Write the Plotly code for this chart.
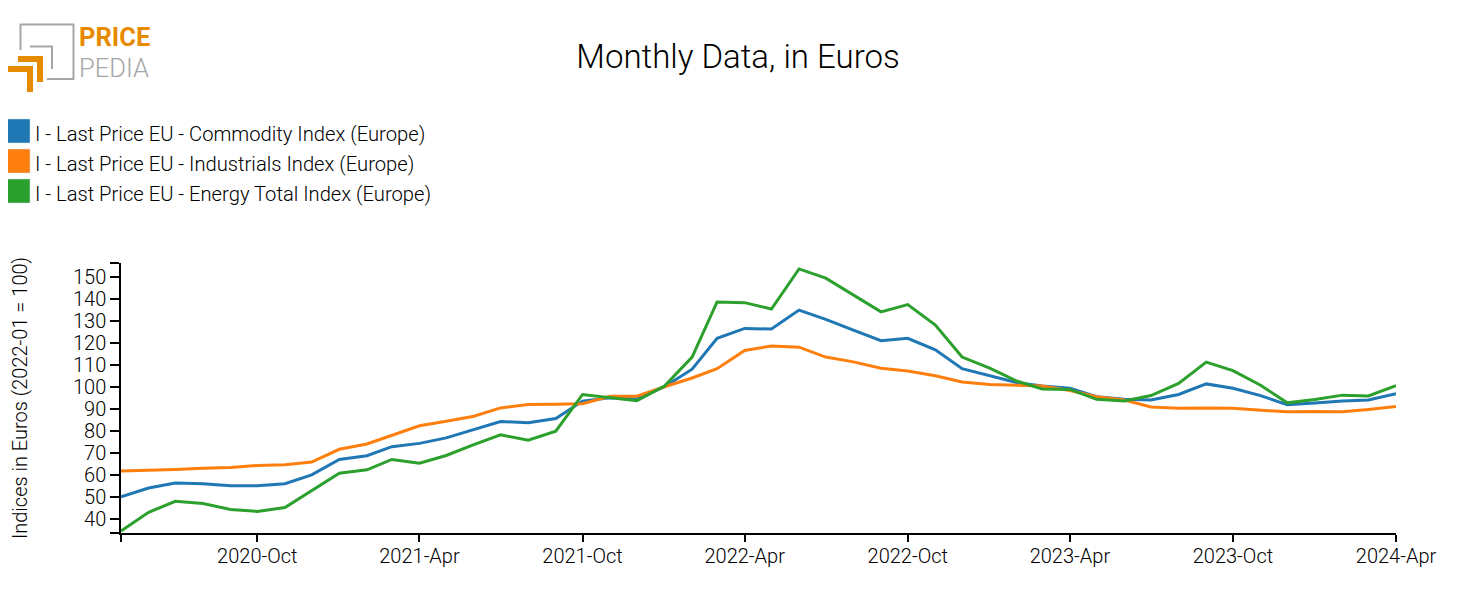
import pandas as pd
import plotly.graph_objects as go

months = pd.date_range("2020-05-01", "2024-04-01", freq="MS")
commodity = [50, 54, 56.3, 56, 55, 55, 56, 60, 67, 68.7, 72.8, 74.3, 76.8, 80.4, 84.2, 83.7, 85.6, 93.5, 95, 94.5,
             100, 108, 122, 126.5, 126.2, 134.8, 130.6, 125.7, 120.9, 122, 116.8, 108.2, 105, 101.8, 100.4, 99.3,
             95.5, 94.3, 94, 96.5, 101.3, 99.3, 96, 91.8, 92.6, 93.5, 94, 96.8]
industrials = [61.7, 62, 62.4, 63, 63.3, 64.3, 64.6, 65.8, 71.6, 74, 77.8, 82.3, 84.3, 86.6, 90.4, 92, 92.1, 92.3, 95.7, 95.7,
               100, 104, 108.2, 116.5, 118.5, 118, 113.5, 111.3, 108.4, 107.2, 105, 102.2, 101, 100.7, 100.4, 98.3,
               95.5, 94, 90.8, 90.2, 90.4, 90.2, 89.5, 88.6, 88.8, 88.7, 89.7, 91]
energy = [34.5, 43, 48, 47, 44.3, 43.4, 45.2, 52.7, 60.7, 62.3, 67, 65.3, 68.8, 73.7, 78.2, 75.7, 79.8, 96.5, 95, 93.7,
          100.3, 113.5, 138.5, 138.2, 135.3, 153.5, 149.3, 141.5, 134, 137.3, 128, 113.5, 108.5, 102.5, 99, 98.8,
          94.3, 93.5, 96, 101.5, 111.2, 107.3, 100.7, 92.7, 94.2, 96.2, 95.8, 100.5]
series_names = ["I - Last Price EU - Commodity Index (Europe)",
                "I - Last Price EU - Industrials Index (Europe)",
                "I - Last Price EU - Energy Total Index (Europe)"]
colors = ["#1f77b4", "#ff7f0e", "#2ca02c"]
x_ticks = ["2020-05-01", "2020-10-01", "2021-04-01", "2021-10-01", "2022-04-01", "2022-10-01", "2023-04-01", "2023-10-01", "2024-04-01"]
x_labels = ["", "2020-Oct", "2021-Apr", "2021-Oct", "2022-Apr", "2022-Oct", "2023-Apr", "2023-Oct", "2024-Apr"]
y_min, y_max = 33.6, 156.2
y_ticks = [y_min, 40, 50, 60, 70, 80, 90, 100, 110, 120, 130, 140, 150, y_max]
y_labels = [""] + [str(v) for v in range(40, 151, 10)] + [""]

PAGE = 8                      # page body margin around the figure
W, H = 1477 - 2 * PAGE, 615 - 2 * PAGE
L, R, T, B = 121, 1396, 263, 533   # plot area in window pixels
FONT = "Roboto"
INK = "#000000"
SIZE = 20
fx = lambda px: (px - L) / (R - L)
fy = lambda py: (B - py) / (B - T)

fig = go.Figure()
for name, vals, c in zip(series_names, [commodity, industrials, energy], colors):
    fig.add_trace(go.Scatter(x=months, y=vals, mode="lines", name=name,
                             line=dict(color=c, width=3), showlegend=False))

shapes = []
annotations = []
def label(text, x, y, size=SIZE, color=INK, weight=300, angle=0, xanchor="left"):
    annotations.append(dict(text=text, xref="paper", yref="paper", x=fx(x), y=fy(y), xanchor=xanchor, yanchor="middle",
                            showarrow=False, textangle=angle, font=dict(family=FONT, size=size, color=color, weight=weight)))

# custom square-swatch legend
for i, (name, c) in enumerate(zip(series_names, colors)):
    top = 119 + 30 * i
    shapes.append(dict(type="rect", xref="paper", yref="paper", x0=fx(7), x1=fx(30), y0=fy(top), y1=fy(top + 24),
                       fillcolor=c, line=dict(color="#cfe0ea", width=0.5)))
    label(name, 33, top + 14.5, size=20.2)

# logo
GREY, ORANGE = "#a6a6a6", "#e68a00"
def path(points, color, width):
    d = "M " + " L ".join(f"{fx(a)},{fy(b)}" for a, b in points)
    shapes.append(dict(type="path", xref="paper", yref="paper", path=d, line=dict(color=color, width=width)))
path([(20.5, 50), (20.5, 24.5), (73.5, 24.5), (73.5, 79), (47, 79)], GREY, 2)
path([(30, 46.5), (52, 46.5), (52, 69)], GREY, 2)
path([(18, 59), (40, 59), (40, 82)], ORANGE, 6)
path([(8, 69), (30, 69), (30, 92)], ORANGE, 6)
label("PRICE", 77, 37.5, size=25.5, color=ORANGE, weight=700)
label("PEDIA", 77, 67.5, size=25.5, color=GREY, weight=300)

axis_common = dict(ticks="outside", tickwidth=1.5, tickcolor="#000", showline=True, linecolor="#000", linewidth=1.5,
                   showgrid=False, zeroline=False, tickmode="array",
                   tickfont=dict(family=FONT, size=SIZE, weight=300, color=INK))

fig.update_layout(
    width=W, height=H,
    margin=dict(l=L - PAGE, r=W - (R - PAGE), t=T - PAGE, b=H - (B - PAGE), autoexpand=False),
    paper_bgcolor="white", plot_bgcolor="white",
    font=dict(family=FONT, color=INK, size=SIZE, weight=300),
    title=dict(text="Monthly Data, in Euros", xref="container", yref="container", x=(738 - PAGE) / W, xanchor="center",
               y=1 - (56 - PAGE) / H, yanchor="middle", font=dict(family=FONT, size=33, color=INK, weight=300)),
    shapes=shapes, annotations=annotations,
    xaxis=dict(type="date", range=["2020-05-01", "2024-04-01"], tickvals=x_ticks, ticktext=x_labels, ticklen=7,
               ticklabelstandoff=-3, automargin=False, **axis_common),
    yaxis=dict(range=[y_min, y_max], tickvals=y_ticks, ticktext=y_labels, ticklen=9, automargin=True,
               title=dict(text="Indices in Euros (2022-01 = 100)", standoff=50,
                          font=dict(family=FONT, size=SIZE, weight=300, color=INK)),
               **axis_common),
)
fig.write_html("out.html")
